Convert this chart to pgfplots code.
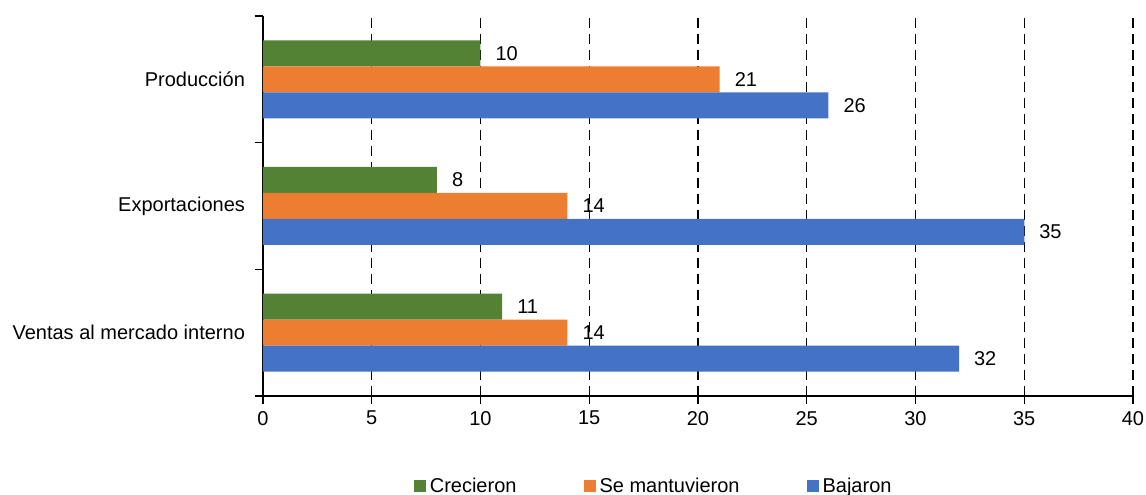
\documentclass[border=0pt]{standalone}
\usepackage{fontspec}
\setmainfont{Liberation Sans}
\usepackage{pgfplots}
\pgfplotsset{compat=1.18}
\usetikzlibrary{calc}
\definecolor{cgreen}{HTML}{548235}
\definecolor{corange}{HTML}{ED7D31}
\definecolor{cblue}{HTML}{4472C4}
\begin{document}
\begin{tikzpicture}
\begin{axis}[name=ax, scale only axis, width=435pt, height=190pt,
 xbar, bar width=13pt,
 xmin=0, xmax=40, ymin=-0.5, ymax=2.5,
 xtick={0,5,...,40},
 ytick={-0.5,0.5,1.5,2.5}, yticklabels={},
 extra y ticks={0,1,2},
 extra y tick labels={Ventas al mercado interno, Exportaciones, Producción},
 extra y tick style={major tick length=0pt, yticklabel style={xshift=-5.5pt}},
 axis lines*=left,
 tick align=outside, major tick length=4pt,
 tick style={black, line width=0.6pt},
 axis line style={black, line width=0.6pt},
 xmajorgrids, major grid style={black, dash pattern=on 5pt off 3pt, line width=0.6pt},
 /pgf/number format/assume math mode=true,
 tick label style={font=\fontsize{10}{12}\selectfont, black},
 nodes near coords,
 every node near coord/.append style={font=\fontsize{10}{12}\selectfont, black, anchor=west, xshift=4pt},
 legend columns=3,
 legend style={draw=none, at={(0.166,-0.238)}, anchor=west, font=\fontsize{10}{12}\selectfont,
   /tikz/every even column/.append style={column sep=31.5pt}},
 legend image code/.code={\fill[#1] (3pt,-3pt) rectangle (9pt,3pt);},
]
\addplot[fill=cgreen, draw=none, bar shift=13pt] coordinates {(11,0) (8,1) (10,2)};
\addplot[fill=corange, draw=none, bar shift=0pt] coordinates {(14,0) (14,1) (21,2)};
\addplot[fill=cblue, draw=none, bar shift=-13pt] coordinates {(32,0) (35,1) (26,2)};
\legend{Crecieron, Se mantuvieron, Bajaron}
\end{axis}
\pgfresetboundingbox
\path[use as bounding box] ($(ax.south west)+(-131.5pt,-49.5pt)$) rectangle ($(ax.north east)+(6.5pt,8pt)$);
\end{tikzpicture}
\end{document}
